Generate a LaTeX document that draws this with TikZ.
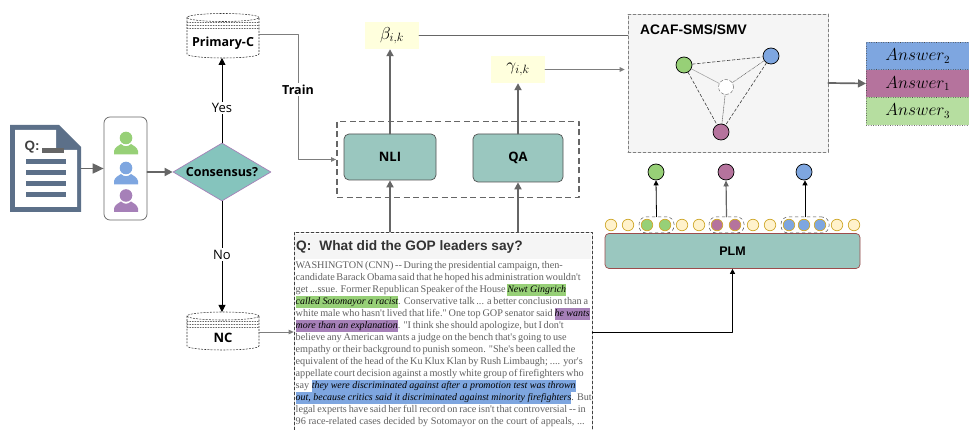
\documentclass[tikz,border=0pt]{standalone}
\usepackage{amsmath}
\usepackage{fontspec}
\setmainfont{Liberation Serif}[Ligatures=TeXOff]
\newfontfamily\headfont{Liberation Sans}
\newfontfamily\handfont{Open Sans}
\usetikzlibrary{arrows.meta}
\usetikzlibrary{shapes.geometric}
\definecolor{ansgreen}{HTML}{97D077}
\definecolor{ansblue}{HTML}{7EA6E0}
\definecolor{anspurple}{HTML}{B5739D}
\definecolor{userpurple}{HTML}{A680B8}
\definecolor{slatedoc}{HTML}{5C7089}
\definecolor{modelteal}{HTML}{9AC7BF}
\definecolor{gateteal}{HTML}{85C4BD}
\definecolor{softyellow}{HTML}{FFFFDD}
\definecolor{linegrey}{HTML}{666666}
\definecolor{softtoken}{HTML}{FFF2CC}
\tikzset{
  flowgrey/.style={draw=linegrey, line width=1.7pt, -{Triangle[length=7pt,width=7pt]}},
  thingrey/.style={draw=linegrey!85, line width=1pt, -{Triangle[length=5pt,width=4.5pt]}},
  flowblack/.style={draw=black, line width=0.9pt, -{Triangle[length=7pt,width=7pt]}},
  smallblack/.style={draw=black, line width=0.8pt, -{Triangle[length=5pt,width=5pt]}},
  modelbox/.style={draw=linegrey!80!black, fill=modelteal, rounded corners=5pt, line width=0.7pt, inner sep=0pt,
    font=\handfont\bfseries\fontsize{13}{15}\selectfont},
  scorebox/.style={fill=softyellow, minimum width=54pt, minimum height=27pt, inner sep=0pt},
  answerbox/.style={draw=black!70, dotted, minimum width=109pt, minimum height=27.7pt, inner sep=0pt,
    font=\fontsize{16}{18}\selectfont},
  entity/.style={circle, draw=black, line width=0.7pt, minimum size=16pt, inner sep=0pt},
  token/.style={circle, draw=yellow!55!orange!80!black, line width=0.7pt, minimum size=11.5pt, inner sep=0pt},
  tokenspan/.style={draw=black!70, dashed, line width=0.5pt, rounded corners=7pt, inner sep=0pt, minimum height=16pt},
  cylbody/.style={draw=black!80, dash pattern=on 1.6pt off 1.6pt, line width=0.55pt},
  handtext/.style={font=\handfont\fontsize{13}{15}\selectfont},
}
\setlength{\fboxsep}{0pt}
\newcommand{\marked}[2]{\colorbox{#1}{\rule[-2.8pt]{0pt}{11.6pt}\color{black}\fontsize{9.95}{12}\selectfont\itshape #2}}
\newcommand{\pline}[2]{\makebox[#1pt][s]{#2}}
\newcommand{\personicon}[3]{%
  \fill[#3] (#1,#2) circle (6.3pt);
  \fill[#3] (#1-12,#2+16.5) -- (#1-12,#2+13) .. controls (#1-11,#2+9) and (#1-8,#2+8) .. (#1-5,#2+6)
    .. controls (#1-2,#2+9) and (#1+2,#2+9) .. (#1+5,#2+6)
    .. controls (#1+8,#2+8) and (#1+11,#2+9) .. (#1+12,#2+13) -- (#1+12,#2+16.5) -- cycle;
}
\newcommand{\dbdrum}[4]{%
  \draw[cylbody, fill=white] (#1,#2) -- (#1,#3) arc[start angle=180, end angle=360, x radius=#4pt, y radius=4pt]
    -- (#1+2*#4,#2);
  \draw[cylbody] (#1+#4,#2) ellipse (#4pt and 4pt);
  \foreach \i in {5,8,11}
    \draw[draw=black!60, dash pattern=on 1.2pt off 1.4pt, line width=0.4pt] (#1,#2+\i) -- (#1+2*#4,#2+\i);
}

\begin{document}
\begin{tikzpicture}[x=1pt, y=-1pt, line cap=round, line join=round]
  \path[clip] (0,0) rectangle (969,430);
  \fill[white] (0,0) rectangle (969,430);

  % question sheet
  \fill[slatedoc] (10,125) -- (59,125) -- (81,147) -- (81,212) -- (10,212) -- cycle;
  \fill[white] (15,130) -- (56,130) -- (56,150) -- (77,150) -- (77,207) -- (15,207) -- cycle;
  \foreach \y in {162,173,184,195}
    \fill[slatedoc] (26,\y-2.5) rectangle (66,\y+2.5);
  \fill[linegrey] (42,148) rectangle (64,153);
  \node[font=\headfont\bfseries\fontsize{13.5}{15}\selectfont, text=black!75, inner sep=0pt] (qmark) at (32,147) {Q:};
  \node[minimum width=71pt, minimum height=87pt, inner sep=0pt] (sheet) at (45.5,168.5) {};

  % annotators
  \node[draw=black!60, rounded corners=6pt, line width=0.7pt, minimum width=43pt, minimum height=103pt, inner sep=0pt] (crowd) at (125.5,168.5) {};
  \personicon{126}{138}{ansgreen}
  \personicon{126}{168}{ansblue}
  \personicon{126}{195.5}{userpurple}

  \node[diamond, draw=userpurple, fill=gateteal, line width=0.7pt, aspect=1.69, minimum width=98pt, minimum height=58pt, inner sep=0pt,
    font=\handfont\bfseries\fontsize{12.5}{14}\selectfont] (consensus) at (222,172) {Consensus?};

  % corpora
  \dbdrum{187}{17.5}{54}{36}
  \node[font=\handfont\bfseries\fontsize{12.5}{14}\selectfont, minimum width=72pt, minimum height=22pt, inner sep=0pt] (primary) at (223,43.5) {Primary-C};
  \dbdrum{187}{316}{346}{36}
  \node[font=\handfont\bfseries\fontsize{13}{15}\selectfont, minimum width=72pt, minimum height=22pt, inner sep=0pt] (nc) at (223,338) {NC};
  \coordinate (primarytail) at (259,35);
  \coordinate (primaryfoot) at (222,58);
  \coordinate (ncfoot) at (222,312);
  \coordinate (nctail) at (259,332);

  % models
  \node[draw=linegrey, dash pattern=on 6pt off 3.5pt, line cap=butt, line width=1.8pt, minimum width=242pt, minimum height=76pt, inner sep=0pt] (models) at (458,159.5) {};
  \node[modelbox, minimum width=92pt, minimum height=46pt] (nli) at (390,157) {NLI};
  \node[modelbox, minimum width=90pt, minimum height=48pt] (qa) at (518,158) {QA};
  \node[scorebox, font=\fontsize{17.28}{19}\selectfont] (beta) at (392,35.5) {$\beta_{i,k}$};
  \node[scorebox, font=\fontsize{17.28}{19}\selectfont] (gamma) at (518,69.5) {$\gamma_{i,k}$};

  % passage
  \node[draw=black!75, densely dashed, line width=0.7pt, minimum width=298pt, minimum height=204pt, inner sep=0pt] (passage) at (443,334) {};
  \fill[black!4] (295,234) rectangle (591,259);
  \node[anchor=west, inner sep=0pt, font=\headfont\bfseries\fontsize{13.7}{16}\selectfont, text=black!80] (qtitle) at (296,246.5) {Q:\hspace{8pt}What did the GOP leaders say?};
  \node[anchor=north west, inner sep=0pt, align=left, text=black!62, font=\fontsize{10.2}{12}\selectfont] (passagetext) at (295.5,261.5) {%
    \pline{266}{WASHINGTON (CNN) -- During the presidential campaign, then-}\\
    \pline{285}{candidate Barack Obama said that he hoped his administration wouldn't}\\
    \pline{270}{get ...ssue. Former Republican Speaker of the House \marked{ansgreen}{Newt Gingrich}}\\
    \pline{291}{\marked{ansgreen}{called Sotomayor a racist}. Conservative talk ... a better conclusion than a}\\
    \pline{294}{white male who hasn't lived that life." One top GOP senator said \marked{userpurple}{he wants}}\\
    \pline{268}{\marked{userpurple}{more than an explanation}. "I think she should apologize, but I don't}\\
    \pline{271}{believe any American wants a judge on the bench that's going to use}\\
    \pline{279}{empathy or their background to punish someon. "She's been called the}\\
    \pline{287}{equivalent of the head of the Ku Klux Klan by Rush Limbaugh; .... yor's}\\
    \pline{288}{appellate court decision against a mostly white group of firefighters who}\\
    \pline{280}{say \marked{ansblue}{they were discriminated against after a promotion test was thrown}}\\
    \pline{294}{\marked{ansblue}{out, because critics said it discriminated against minority firefighters}. But}\\
    \pline{290}{legal experts have said her full record on race isn't that controversial -- in}\\
    \pline{289}{96 race-related cases decided by Sotomayor on the court of appeals, ...}};

  % aggregation
  \node[draw=black!50, densely dashed, fill=black!4, line width=0.6pt, minimum width=200pt, minimum height=138pt, inner sep=0pt] (acaf) at (728,83) {};
  \node[anchor=west, inner sep=0pt, font=\headfont\bfseries\fontsize{13.8}{15}\selectfont] (acaftitle) at (640,30) {ACAF-SMS/SMV};
  \node[entity, fill=ansgreen] (votegreen) at (684,65) {};
  \node[entity, fill=ansblue] (voteblue) at (771,56) {};
  \node[entity, fill=anspurple] (votepurple) at (721,132) {};
  \node[circle, draw=black!55, densely dashed, fill=white, line width=0.5pt, minimum size=15pt, inner sep=0pt] (truth) at (726,87) {};
  \draw[densely dashed, black!75, line width=0.6pt] (votegreen) -- (voteblue);
  \draw[densely dashed, black!75, line width=0.6pt] (votegreen) -- (votepurple);
  \draw[densely dashed, black!75, line width=0.6pt] (voteblue) -- (votepurple);
  \draw[black!35, line width=0.6pt] (votegreen) -- (truth);
  \draw[densely dotted, black!60, line width=0.6pt] (voteblue) -- (truth);
  \draw[densely dotted, black!60, line width=0.6pt] (votepurple) -- (truth);

  % answers
  \node[answerbox, fill=ansblue, anchor=west] (ans2) at (866,56) {\hspace{-6pt}$Answer_2$\hspace{6pt}};
  \node[answerbox, fill=anspurple, anchor=west] (ans1) at (866,83.5) {\hspace{-6pt}$Answer_1$\hspace{6pt}};
  \node[answerbox, fill=ansgreen!70!white, anchor=west] (ans3) at (866,111) {\hspace{-6pt}$Answer_3$\hspace{6pt}};

  % encoder
  \node[draw=red!45!black!70, fill=modelteal, rounded corners=4pt, line width=0.7pt, minimum width=255pt, minimum height=35pt, inner sep=0pt,
    font=\headfont\bfseries\fontsize{12.5}{14}\selectfont] (plm) at (732.5,251) {PLM};
  \node[tokenspan, minimum width=35pt] (spangreen) at (656.5,225) {};
  \node[tokenspan, minimum width=35pt] (spanpurple) at (726.5,225) {};
  \node[tokenspan, minimum width=48pt] (spanblue) at (805,225) {};
  \foreach \x/\c [count=\n] in {611/softtoken,628/softtoken,647/ansgreen,665/ansgreen,682/softtoken,699/softtoken,717/anspurple,735/anspurple,753/softtoken,770/softtoken,789/ansblue,804/ansblue,820/ansblue,837/softtoken,854/softtoken}
    \node[token, fill=\c] (tok\n) at (\x,225) {};
  \node[entity, fill=ansgreen] (outgreen) at (656,172) {};
  \node[entity, fill=anspurple] (outpurple) at (726,172) {};
  \node[entity, fill=ansblue] (outblue) at (804,172) {};

  % connectors
  \draw[flowgrey, -{Triangle[length=11pt,width=10pt]}] (sheet.east) -- (crowd.west);
  \draw[flowgrey, -{Triangle[length=8pt,width=8pt]}] (crowd.east |- consensus.west) -- (consensus.west);
  \draw[flowblack] (consensus.north) -- node[pos=.41, fill=white, inner sep=1.5pt, handtext] (yeslabel) {Yes} (primaryfoot);
  \draw[flowblack] (consensus.south) -- node[pos=.48, fill=white, inner sep=1.5pt, handtext] (nolabel) {No} (ncfoot);
  \coordinate (trainbend) at (298,159.5);
  \draw[thingrey] (primarytail) -- (trainbend |- primarytail) -- node[pos=.44, fill=white, inner sep=1.5pt, font=\handfont\bfseries\fontsize{12.5}{14}\selectfont] (trainlabel) {Train} (trainbend) -- (models.west);
  \draw[thingrey] (nctail) -- (passage.west |- nctail);
  \draw[smallblack] (passage.east |- nctail) -| (plm.south);
  \draw[flowgrey] (nli.north) -- (beta.south -| nli.north);
  \draw[flowgrey] (qa.north) -- (gamma.south);
  \draw[flowgrey] (passage.north -| nli.south) -- (nli.south);
  \draw[flowgrey] (passage.north -| qa.south) -- (qa.south);
  \draw[linegrey, line width=1.1pt] (beta.east) -- (acaf.west |- beta.east);
  \draw[thingrey] (gamma.east) -- ([xshift=-3pt]acaf.west |- gamma.east);
  \draw[flowgrey, -{Triangle[length=8pt,width=8pt]}] (acaf.east) -- (ans1.west);
  \draw[smallblack] (spangreen.north) -- (outgreen.south);
  \draw[flowgrey, line width=1.2pt, -{Triangle[length=6pt,width=5pt]}] (spanpurple.north) -- (outpurple.south);
  \draw[smallblack] (spanblue.north) -- (outblue.south -| spanblue.north);
\end{tikzpicture}
\end{document}
